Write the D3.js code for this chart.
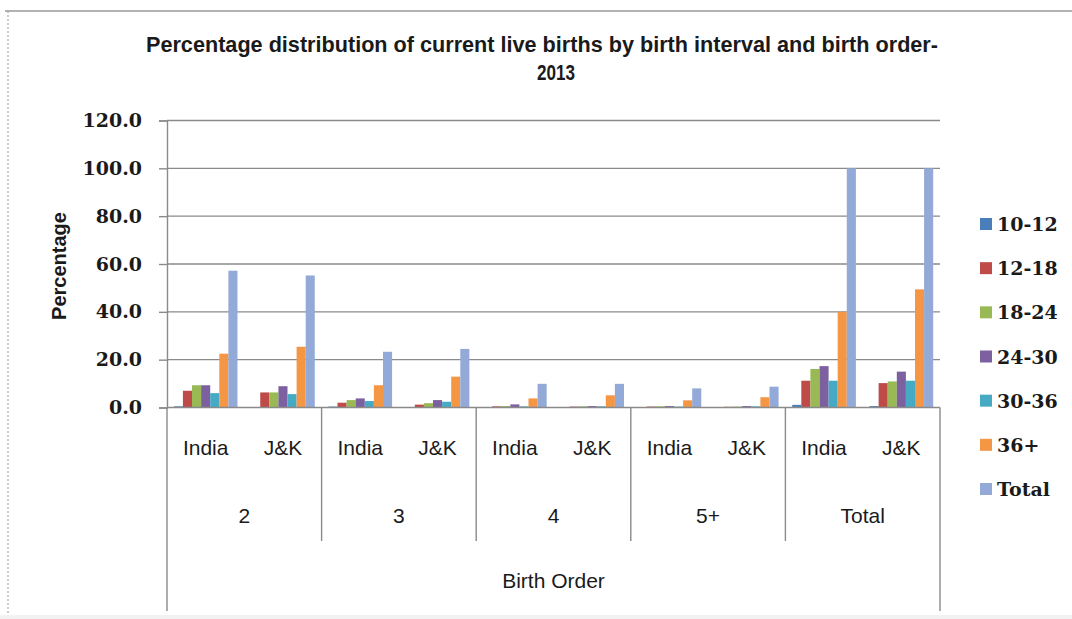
<!DOCTYPE html>
<html>
<head>
<meta charset="utf-8">
<script src="https://cdn.jsdelivr.net/npm/d3@7"></script>
<style>
  html, body { margin: 0; padding: 0; background: #fff; }
  svg { display: block; }
</style>
</head>
<body>
<svg id="chart" width="1072" height="619"></svg>
<script>
// Birth order groups and the two areas shown inside each group
const birthOrders = ["2", "3", "4", "5+", "Total"];
const areas = ["India", "J&K"];
// Birth-interval series (months)
const seriesNames = ["10-12", "12-18", "18-24", "24-30", "30-36", "36+", "Total"];
const seriesColors = ["#4A7EBB", "#BE4B48", "#98B954", "#7D60A0", "#46AAC5", "#F59645", "#93AAD8"];

// Values per column: India 2, J&K 2, India 3, J&K 3, India 4, J&K 4, India 5+, J&K 5+, India Total, J&K Total
const v10to12 = [0.5, 0.2, 0.4, 0.1, 0.2, 0.1, 0.2, 0.1, 1.1, 0.6];
const v12to18 = [7.0, 6.3, 2.0, 1.2, 0.5, 0.4, 0.4, 0.3, 11.2, 10.2];
const v18to24 = [9.3, 6.3, 3.1, 1.8, 0.6, 0.5, 0.5, 0.4, 16.1, 10.9];
const v24to30 = [9.3, 8.9, 3.8, 3.1, 1.3, 0.6, 0.6, 0.6, 17.3, 15.0];
const v30to36 = [6.0, 5.6, 2.7, 2.4, 0.5, 0.5, 0.4, 0.5, 11.2, 11.2];
const v36plus = [22.5, 25.4, 9.3, 12.9, 3.8, 5.1, 3.0, 4.3, 40.0, 49.4];
const vTotal  = [57.2, 55.2, 23.3, 24.5, 9.9, 9.9, 8.0, 8.7, 100.0, 100.0];
const seriesValues = [v10to12, v12to18, v18to24, v24to30, v30to36, v36plus, vTotal];

const yTicks = [0, 20, 40, 60, 80, 100, 120];

const svg = d3.select("#chart");
const plot = { left: 167, right: 940, top: 120.5, bottom: 407.5 };
const gridColor = "#8a8a8a";
const textColor = "#1a1a1a";

// Page frame
svg.append("line").attr("x1", 5).attr("x2", 1072).attr("y1", 11).attr("y2", 11)
  .attr("stroke", "#9a9a9a").attr("stroke-width", 1.5);
svg.append("line").attr("x1", 8).attr("x2", 8).attr("y1", 11).attr("y2", 619)
  .attr("stroke", "#999").attr("stroke-width", 1).attr("stroke-dasharray", "2,2");
svg.append("rect").attr("x", 0).attr("y", 615).attr("width", 1072).attr("height", 4)
  .attr("fill", "#f2f2f2");

// Title (two centred lines)
const title = svg.append("g").attr("font-family", "'Liberation Sans', Arial, sans-serif")
  .attr("font-weight", "bold").attr("font-size", 22).attr("fill", textColor)
  .attr("text-anchor", "middle");
title.append("text").attr("x", 542).attr("y", 52)
  .attr("textLength", 792).attr("lengthAdjust", "spacingAndGlyphs")
  .text("Percentage distribution of current live births by birth interval and birth order-");
title.append("text").attr("x", 556).attr("y", 80)
  .attr("textLength", 38).attr("lengthAdjust", "spacingAndGlyphs")
  .text("2013");

// Scales
const y = d3.scaleLinear().domain([0, 120]).range([plot.bottom, plot.top]);
const x0 = d3.scaleBand().domain(birthOrders).range([plot.left, plot.right]).padding(0);
const x1 = d3.scaleBand().domain(areas).range([0, x0.bandwidth()]).padding(0);
const barW = x1.bandwidth() / (seriesNames.length + 1.5);
const x2 = d3.scaleBand().domain(seriesNames)
  .range([barW * 0.75, x1.bandwidth() - barW * 0.75]).padding(0);

// Gridlines
svg.append("g").selectAll("line").data(yTicks.filter(t => t > 0)).join("line")
  .attr("x1", plot.left).attr("x2", plot.right)
  .attr("y1", d => y(d)).attr("y2", d => y(d))
  .attr("stroke", gridColor).attr("stroke-width", 1.4);

// Y axis
const yAxis = svg.append("g").attr("transform", `translate(${plot.left},0)`)
  .call(d3.axisLeft(y).tickValues(yTicks).tickFormat(d3.format(".1f")).tickSize(8).tickPadding(17));
yAxis.select(".domain").attr("stroke", gridColor).attr("stroke-width", 1.4);
yAxis.selectAll(".tick line").attr("stroke", gridColor).attr("stroke-width", 1.4);
yAxis.selectAll(".tick text").attr("font-family", "'DejaVu Serif', serif")
  .attr("font-weight", "bold").attr("font-size", 19).attr("fill", textColor);

// Bars
const columns = [];
birthOrders.forEach((g, gi) => areas.forEach((a, ai) => columns.push({ g, a, idx: gi * 2 + ai })));
const colG = svg.append("g").selectAll("g").data(columns).join("g")
  .attr("transform", d => `translate(${x0(d.g) + x1(d.a)},0)`);
colG.selectAll("rect")
  .data(d => seriesNames.map((s, si) => ({ s, si, v: seriesValues[si][d.idx] })))
  .join("rect")
  .attr("x", d => x2(d.s))
  .attr("width", x2.bandwidth())
  .attr("y", d => y(d.v))
  .attr("height", d => y(0) - y(d.v))
  .attr("fill", d => seriesColors[d.si]);

// Category axis: baseline and group dividers
svg.append("line").attr("x1", plot.left).attr("x2", plot.right)
  .attr("y1", plot.bottom).attr("y2", plot.bottom)
  .attr("stroke", gridColor).attr("stroke-width", 1.4);
const dividers = birthOrders.map(g => x0(g)).concat([plot.right]);
svg.append("g").selectAll("line").data(dividers).join("line")
  .attr("x1", d => d).attr("x2", d => d)
  .attr("y1", plot.bottom)
  .attr("y2", (d, i) => (i === 0 || i === dividers.length - 1) ? 611 : 541)
  .attr("stroke", gridColor).attr("stroke-width", 1.4);

const catFont = "'Liberation Sans', Arial, sans-serif";
// Area labels
svg.append("g").selectAll("text").data(columns).join("text")
  .attr("x", d => x0(d.g) + x1(d.a) + x1.bandwidth() / 2)
  .attr("y", 455)
  .attr("text-anchor", "middle").attr("font-family", catFont).attr("font-size", 21)
  .attr("fill", textColor)
  .text(d => d.a);
// Birth order labels
svg.append("g").selectAll("text").data(birthOrders).join("text")
  .attr("x", d => x0(d) + x0.bandwidth() / 2)
  .attr("y", 523)
  .attr("text-anchor", "middle").attr("font-family", catFont).attr("font-size", 21)
  .attr("fill", textColor)
  .text(d => d);

// Axis titles
svg.append("text").attr("x", (plot.left + plot.right) / 2).attr("y", 588)
  .attr("text-anchor", "middle").attr("font-family", catFont).attr("font-size", 21)
  .attr("fill", textColor).text("Birth Order");
svg.append("text").attr("transform", "translate(66,266) rotate(-90)")
  .attr("text-anchor", "middle").attr("font-family", catFont).attr("font-weight", "bold")
  .attr("font-size", 20).attr("fill", textColor).text("Percentage");

// Legend
const ly = d3.scaleLinear().domain([0, seriesNames.length - 1]).range([224, 489]);
const legend = svg.append("g").selectAll("g").data(seriesNames).join("g")
  .attr("transform", (d, i) => `translate(980,${ly(i)})`);
legend.append("rect").attr("x", 0).attr("y", -6).attr("width", 12).attr("height", 12)
  .attr("fill", (d, i) => seriesColors[i]);
legend.append("text").attr("x", 17).attr("y", 7)
  .attr("font-family", "'DejaVu Serif', serif").attr("font-weight", "bold")
  .attr("font-size", 19).attr("fill", textColor)
  .text(d => d);
</script>
</body>
</html>
